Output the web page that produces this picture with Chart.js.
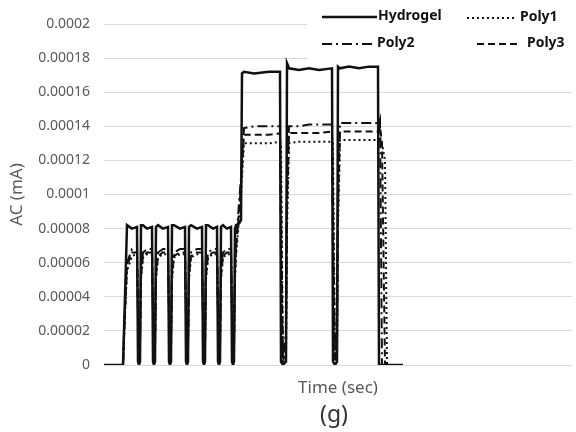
<!DOCTYPE html>
<html>
<head>
<meta charset="utf-8">
<script src="https://cdn.jsdelivr.net/npm/chart.js@4"></script>
<style>
  html, body { margin: 0; padding: 0; background: #fff; }
  #wrap { width: 576px; height: 432px; }
</style>
</head>
<body>
<div id="wrap"><canvas id="acChart" width="576" height="432"></canvas></div>
<script>
// time axis (sec, arbitrary origin) shared by all four traces
const times = [
  0, 19, 21, 23, 28,
  33, 34, 35, 36, 37, 39, 43,
  48, 49, 50, 51, 52, 54, 59,
  64, 65, 66, 67, 68, 70, 76,
  81, 82, 83, 84, 85, 87, 93,
  98, 99, 100, 101, 102, 104, 109,
  113, 114, 115, 116, 117, 119, 123,
  127, 128, 129, 130, 131,
  132, 135, 137, 138, 140,
  150, 165, 176,
  177, 179, 182, 183, 185,
  195, 205, 215, 228,
  229, 231, 233, 234, 236,
  245, 255, 265, 274,
  275, 276, 278, 281, 283, 299
];

const hydrogel = [
  0, 0, 0.00004, 0.000082, 0.00008,
  0.000081, 0.000002, 0, 0.000002, 0.000082, 0.000082, 0.00008,
  0.000081, 0.000002, 0, 0.000002, 0.000081, 0.000082, 0.00008,
  0.000081, 0.000002, 0, 0.000002, 0.000082, 0.000082, 0.00008,
  0.000081, 0.000002, 0, 0.000002, 0.000081, 0.000082, 0.00008,
  0.000081, 0.000002, 0, 0.000002, 0.000082, 0.000082, 0.00008,
  0.000081, 0.000002, 0, 0.000002, 0.000081, 0.000082, 0.00008,
  0.000081, 0.000002, 0, 0.000002, 0.00008,
  0.000082, 0.000083, 0.000085, 0.000171, 0.000172,
  0.000171, 0.000172, 0.000172,
  0.000002, 0, 0.000002, 0.000177, 0.000174,
  0.000173, 0.000174, 0.000173, 0.000174,
  0.000002, 0, 0.000002, 0.000175, 0.000174,
  0.000175, 0.000174, 0.000175, 0.000175,
  0, 0, 0, 0, 0, 0
];

const poly1 = [
  0, 0, 0.00003, 0.000055, 0.000064,
  0.000065, 0.00003, 0.000002, 0.00001, 0.00005, 0.000063, 0.000065,
  0.000065, 0.00003, 0.000002, 0.00001, 0.00005, 0.000063, 0.000065,
  0.000065, 0.00003, 0.000002, 0.00001, 0.00005, 0.000063, 0.000065,
  0.000065, 0.00003, 0.000002, 0.00001, 0.00005, 0.000063, 0.000065,
  0.000065, 0.00003, 0.000002, 0.00001, 0.00005, 0.000063, 0.000065,
  0.000065, 0.00003, 0.000002, 0.00001, 0.00005, 0.000063, 0.000065,
  0.000065, 0.00003, 0.000002, 0.00001, 0.00005,
  0.000063, 0.000085, 0.0001, 0.00011, 0.00013,
  0.00013, 0.00013, 0.000131,
  0.00013, 0.000002, 0.000003, 0.00008, 0.00013,
  0.000131, 0.000131, 0.000131, 0.000131,
  0.00013, 0.000002, 0.000003, 0.00008, 0.000132,
  0.000132, 0.000132, 0.000132, 0.000132,
  0.000132, 0.000134, 0.00013, 0.00012, 0, 0
];

const poly2 = [
  0, 0, 0.000035, 0.00006, 0.000068,
  0.000068, 0.000035, 0.000001, 0.000015, 0.000055, 0.000066, 0.000068,
  0.000068, 0.000035, 0.000001, 0.000015, 0.000055, 0.000066, 0.000068,
  0.000068, 0.000035, 0.000001, 0.000015, 0.000055, 0.000066, 0.000068,
  0.000068, 0.000035, 0.000001, 0.000015, 0.000055, 0.000066, 0.000068,
  0.000068, 0.000035, 0.000001, 0.000015, 0.000055, 0.000066, 0.000068,
  0.000068, 0.000035, 0.000001, 0.000015, 0.000055, 0.000066, 0.000068,
  0.000068, 0.000035, 0.000001, 0.000015, 0.000055,
  0.00007, 0.000095, 0.00011, 0.00012, 0.000139,
  0.00014, 0.00014, 0.00014,
  0.00006, 0.000004, 0.00002, 0.00011, 0.00014,
  0.00014, 0.000141, 0.000141, 0.000141,
  0.00006, 0.000004, 0.00002, 0.00011, 0.000142,
  0.000142, 0.000142, 0.000142, 0.000142,
  0.000142, 0.000144, 0, 0, 0, 0
];

const poly3 = [
  0, 0, 0.00003, 0.000058, 0.000066,
  0.000066, 0.00003, 0.000003, 0.00001, 0.000052, 0.000064, 0.000066,
  0.000066, 0.00003, 0.000003, 0.00001, 0.000052, 0.000064, 0.000066,
  0.000066, 0.00003, 0.000003, 0.00001, 0.000052, 0.000064, 0.000066,
  0.000066, 0.00003, 0.000003, 0.00001, 0.000052, 0.000064, 0.000066,
  0.000066, 0.00003, 0.000003, 0.00001, 0.000052, 0.000064, 0.000066,
  0.000066, 0.00003, 0.000003, 0.00001, 0.000052, 0.000064, 0.000066,
  0.000066, 0.00003, 0.000003, 0.00001, 0.000052,
  0.000068, 0.00009, 0.000105, 0.000115, 0.000135,
  0.000135, 0.000135, 0.000136,
  0.0001, 0.000002, 0.00001, 0.00009, 0.000136,
  0.000136, 0.000136, 0.000136, 0.000137,
  0.0001, 0.000002, 0.00001, 0.00009, 0.000137,
  0.000137, 0.000137, 0.000137, 0.000137,
  0.000137, 0.00014, 0.00013, 0, 0, 0
];

const yTickLabels = ['0', '0.00002', '0.00004', '0.00006', '0.00008', '0.0001',
  '0.00012', '0.00014', '0.00016', '0.00018', '0.0002'];

const seriesNames = ['Hydrogel', 'Poly1', 'Poly2', 'Poly3'];

const ink = '#111';
const gray = '#595959';
const font = '"Noto Sans", "DejaVu Sans", sans-serif';

function pts(values) {
  return times.map((t, i) => ({ x: t, y: values[i] }));
}

// dash style per series, reused by the hand-drawn legend
const dashes = {
  Hydrogel: [],
  Poly1: [2, 3],
  Poly2: [10, 4, 2, 4],
  Poly3: [7, 4]
};
const widths = { Hydrogel: 2.5, Poly1: 2, Poly2: 2, Poly3: 2 };

function ds(name, values) {
  return {
    label: name,
    data: pts(values),
    borderColor: ink,
    borderWidth: widths[name],
    borderDash: dashes[name],
    pointRadius: 0,
    tension: 0,
    fill: false
  };
}

// Excel-style legend in the top right corner, over a white box
const cornerLegend = {
  id: 'cornerLegend',
  afterDraw(chart) {
    const c = chart.ctx;
    const area = chart.chartArea;
    c.save();
    c.fillStyle = '#fff';
    c.fillRect(307, 0, chart.width - 307, 61);

    const spots = [
      { name: seriesNames[0], x1: 322, x2: 377, y: 17, tx: 378 },
      { name: seriesNames[1], x1: 467, x2: 514, y: 18, tx: 520 },
      { name: seriesNames[2], x1: 322, x2: 376, y: 44, tx: 377 },
      { name: seriesNames[3], x1: 477, x2: 521, y: 44, tx: 527 }
    ];
    spots.forEach(s => {
      c.strokeStyle = ink;
      c.lineWidth = widths[s.name];
      c.setLineDash(dashes[s.name]);
      c.beginPath();
      c.moveTo(s.x1, s.y);
      c.lineTo(s.x2, s.y);
      c.stroke();
      c.setLineDash([]);
      c.fillStyle = ink;
      c.font = 'bold 14px ' + font;
      c.textAlign = 'left';
      c.textBaseline = 'middle';
      c.fillText(s.name, s.tx, s.y - 1);
    });

    // panel letter under the axis title
    c.fillStyle = '#333';
    c.font = '23px ' + font;
    c.textAlign = 'center';
    c.textBaseline = 'middle';
    c.fillText('(g)', (area.left + area.right) / 2 - 4, 415);
    c.restore();
  }
};

const ctx = document.getElementById('acChart').getContext('2d');

const chart = new Chart(ctx, {
  type: 'line',
  data: {
    datasets: [
      ds('Hydrogel', hydrogel),
      ds('Poly1', poly1),
      ds('Poly2', poly2),
      ds('Poly3', poly3)
    ]
  },
  options: {
    responsive: false,
    animation: false,
    layout: { padding: { top: 24, right: 4, left: 0, bottom: 0 } },
    plugins: {
      legend: { display: false },
      tooltip: { enabled: false }
    },
    scales: {
      x: {
        type: 'linear',
        min: 0,
        max: 468,
        ticks: { display: false },
        grid: { display: false },
        border: { display: false },
        title: {
          display: true,
          text: 'Time (sec)',
          color: gray,
          font: { family: font, size: 17 },
          padding: { top: 0, bottom: 34 }
        },
        afterFit(scale) { scale.height = 67; }
      },
      y: {
        min: 0,
        max: 0.0002,
        ticks: {
          stepSize: 0.00002,
          color: gray,
          padding: 14,
          font: { family: font, size: 14 },
          callback: v => yTickLabels[Math.round(v / 0.00002)]
        },
        grid: { color: '#d9d9d9', lineWidth: 1, drawTicks: false },
        border: { display: false },
        title: {
          display: true,
          text: 'AC (mA)',
          color: gray,
          font: { family: font, size: 17 },
          padding: { top: 7, bottom: 0 }
        },
        afterFit(scale) { scale.width = 104; }
      }
    }
  },
  plugins: [cornerLegend]
});
</script>
</body>
</html>
